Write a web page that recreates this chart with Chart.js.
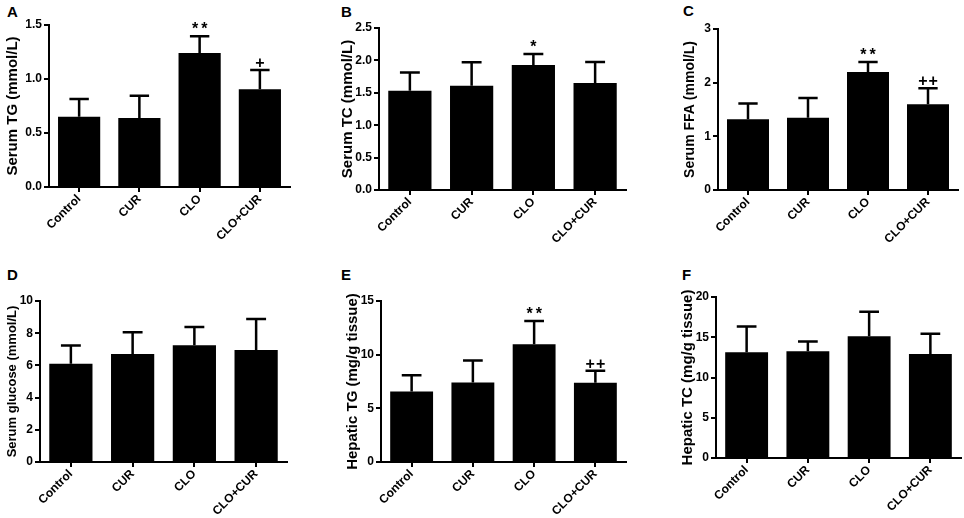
<!DOCTYPE html>
<html><head><meta charset="utf-8">
<script src="https://cdn.jsdelivr.net/npm/chart.js@4.4.1/dist/chart.umd.min.js"></script>
<style>
html,body{margin:0;padding:0;background:#fff;overflow:hidden;width:964px;height:518px;}
canvas{position:absolute;}
.lab{position:absolute;font:bold 15px "Liberation Sans",Arial,sans-serif;line-height:15px;color:#000;}
</style></head><body>
<div class="lab" style="left:7px;top:4px">A</div>
<div class="lab" style="left:341px;top:4px">B</div>
<div class="lab" style="left:683px;top:3px">C</div>
<div class="lab" style="left:7px;top:267px">D</div>
<div class="lab" style="left:341px;top:267px">E</div>
<div class="lab" style="left:682px;top:267px">F</div>
<canvas id="cA" width="289" height="242" style="left:4px;top:15px"></canvas>
<canvas id="cB" width="290" height="242" style="left:339px;top:18px"></canvas>
<canvas id="cC" width="279" height="241" style="left:682px;top:19px"></canvas>
<canvas id="cD" width="285" height="226" style="left:5px;top:291px"></canvas>
<canvas id="cE" width="285" height="226" style="left:344px;top:291px"></canvas>
<canvas id="cF" width="284" height="226" style="left:679px;top:287px"></canvas>
<script>
const categories = ['Control', 'CUR', 'CLO', 'CLO+CUR'];

const meanA = [0.65, 0.64, 1.24, 0.905];
const sdA   = [0.165, 0.205, 0.155, 0.178];
const sigA  = ['', '', '**', '+'];
const ticksA = ['0.0', '0.5', '1.0', '1.5'];
const titleA = 'Serum TG (mmol/L)';

const meanB = [1.53, 1.61, 1.93, 1.65];
const sdB   = [0.285, 0.36, 0.17, 0.325];
const sigB  = ['', '', '*', ''];
const ticksB = ['0.0', '0.5', '1.0', '1.5', '2.0', '2.5'];
const titleB = 'Serum TC (mmol/L)';

const meanC = [1.32, 1.345, 2.2, 1.6];
const sdC   = [0.29, 0.37, 0.185, 0.296];
const sigC  = ['', '', '**', '++'];
const ticksC = ['0', '1', '2', '3'];
const titleC = 'Serum FFA (mmol/L)';

const meanD = [6.1, 6.71, 7.25, 6.96];
const sdD   = [1.13, 1.35, 1.14, 1.92];
const sigD  = ['', '', '', ''];
const ticksD = ['0', '2', '4', '6', '8', '10'];
const titleD = 'Serum glucose (mmol/L)';

const meanE = [6.57, 7.41, 10.96, 7.38];
const sdE   = [1.52, 2.05, 2.17, 1.12];
const sigE  = ['', '', '**', '++'];
const ticksE = ['0', '5', '10', '15'];
const titleE = 'Hepatic TG (mg/g tissue)';

const meanF = [13.14, 13.26, 15.12, 12.93];
const sdF   = [3.18, 1.2, 3.06, 2.52];
const sigF  = ['', '', '', ''];
const ticksF = ['0', '5', '10', '15', '20'];
const titleF = 'Hepatic TC (mg/g tissue)';

const FONT = '"Liberation Sans", Arial, sans-serif';

const errorBarPlugin = {
  id: 'errbars',
  afterDatasetsDraw(chart, args, opts) {
    const ctx = chart.ctx;
    const meta = chart.getDatasetMeta(0);
    const ys = chart.scales.y;
    const vals = chart.data.datasets[0].data;
    ctx.save();
    ctx.strokeStyle = '#000';
    ctx.fillStyle = '#000';
    ctx.lineWidth = 2.5;
    meta.data.forEach((bar, i) => {
      const x = bar.x;
      const y0 = ys.getPixelForValue(vals[i]);
      const y1 = ys.getPixelForValue(vals[i] + opts.sd[i]);
      const half = bar.width * 0.23;
      ctx.beginPath();
      ctx.moveTo(x, y0); ctx.lineTo(x, y1);
      ctx.moveTo(x - half, y1); ctx.lineTo(x + half, y1);
      ctx.stroke();
      const s = opts.sig[i];
      if (s) {
        const sp = s.indexOf('*') >= 0 ? 3 : 1;
        ctx.font = 'bold 16px ' + FONT;
        ctx.letterSpacing = sp + 'px';
        ctx.textAlign = 'center';
        ctx.textBaseline = 'alphabetic';
        ctx.fillText(s, x + sp / 2, y1 - 2);
      }
    });
    ctx.restore();
  }
};

function makePanel(id, means, sd, sig, tickLabels, title, cfg) {
  const tickVals = tickLabels.map(Number);
  new Chart(document.getElementById(id), {
    type: 'bar',
    data: { labels: categories, datasets: [{ data: means, backgroundColor: '#000', borderWidth: 0, barPercentage: 0.7, categoryPercentage: 1 }] },
    options: {
      responsive: false, animation: false, events: [],
      layout: { padding: { top: 10, right: cfg.pr, left: 0, bottom: 0 } },
      plugins: { legend: { display: false }, tooltip: { enabled: false }, errbars: { sd: sd, sig: sig } },
      scales: {
        x: {
          offset: true,
          grid: { offset: false, drawOnChartArea: false, drawTicks: true, tickLength: 5, color: '#000', lineWidth: 2 },
          border: { color: '#000', width: 2 },
          ticks: { color: '#000', font: { family: FONT, size: 12, weight: 'bold' }, maxRotation: 45, minRotation: 45, padding: 0, autoSkip: false },
          afterFit(s) { s.height = cfg.xh; }
        },
        y: {
          min: tickVals[0], max: tickVals[tickVals.length - 1],
          afterBuildTicks(s) { s.ticks = tickVals.map(v => ({ value: v })); },
          grid: { drawOnChartArea: false, drawTicks: true, tickLength: 5, color: '#000', lineWidth: 2 },
          border: { color: '#000', width: 2 },
          ticks: { color: '#000', font: { family: FONT, size: 12, weight: 'bold' }, padding: 2, callback: (v, i) => tickLabels[i] },
          title: { display: true, text: title, color: '#000', font: { family: FONT, size: cfg.ts, weight: 'bold' }, padding: 0 },
          afterFit(s) { s.width = cfg.yw; }
        }
      }
    },
    plugins: [errorBarPlugin]
  });
}

makePanel('cA', meanA, sdA, sigA, ticksA, titleA, { yw: 45, xh: 70, pr: 3, ts: 15 });
makePanel('cB', meanB, sdB, sigB, ticksB, titleB, { yw: 40, xh: 70, pr: 3, ts: 15 });
makePanel('cC', meanC, sdC, sigC, ticksC, titleC, { yw: 36, xh: 70, pr: 3, ts: 14 });
makePanel('cD', meanD, sdD, sigD, ticksD, titleD, { yw: 35, xh: 55, pr: 3, ts: 13 });
makePanel('cE', meanE, sdE, sigE, ticksE, titleE, { yw: 37, xh: 55, pr: 3, ts: 15 });
makePanel('cF', meanF, sdF, sigF, ticksF, titleF, { yw: 37, xh: 55, pr: 2, ts: 15 });
</script>
</body></html>
